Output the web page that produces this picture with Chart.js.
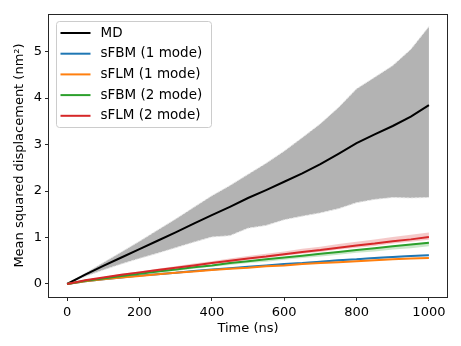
<!DOCTYPE html>
<html>
<head>
<meta charset="utf-8">
<script src="https://cdn.jsdelivr.net/npm/chart.js@4.4.1/dist/chart.umd.min.js"></script>
<style>
  html, body { margin: 0; padding: 0; background: #fff; }
  #wrap { width: 461px; height: 346px; }
</style>
</head>
<body>
<div id="wrap"><canvas id="chart" width="461" height="346"></canvas></div>
<script>
// time points (ns)
const times = [0, 50, 100, 150, 200, 250, 300, 350, 400, 450, 500, 550, 600, 650, 700, 750, 800, 850, 900, 950, 1000];

// MD mean and spread
const mdMean = [0, 0.2, 0.39, 0.57, 0.75, 0.93, 1.11, 1.30, 1.48, 1.66, 1.85, 2.02, 2.20, 2.38, 2.58, 2.80, 3.03, 3.22, 3.40, 3.60, 3.85];
const mdHigh = [0, 0.23, 0.46, 0.69, 0.92, 1.16, 1.40, 1.65, 1.90, 2.12, 2.36, 2.60, 2.86, 3.15, 3.45, 3.80, 4.20, 4.45, 4.70, 5.05, 5.54];
const mdLow  = [0, 0.16, 0.30, 0.43, 0.55, 0.66, 0.78, 0.90, 1.01, 1.04, 1.20, 1.26, 1.38, 1.46, 1.53, 1.62, 1.75, 1.82, 1.86, 1.85, 1.86];

// models
const fbm1 = [0, 0.06, 0.10, 0.14, 0.18, 0.21, 0.24, 0.28, 0.31, 0.34, 0.37, 0.40, 0.43, 0.45, 0.48, 0.51, 0.53, 0.56, 0.58, 0.60, 0.62];
const fbm1High = [0, 0.06, 0.11, 0.15, 0.19, 0.22, 0.25, 0.29, 0.32, 0.35, 0.38, 0.41, 0.44, 0.47, 0.50, 0.53, 0.55, 0.58, 0.60, 0.62, 0.64];
const fbm1Low = [0, 0.05, 0.10, 0.13, 0.17, 0.20, 0.23, 0.27, 0.30, 0.33, 0.36, 0.39, 0.42, 0.44, 0.47, 0.49, 0.52, 0.54, 0.56, 0.59, 0.61];

const flm1 = [0, 0.06, 0.10, 0.14, 0.17, 0.21, 0.24, 0.27, 0.30, 0.33, 0.35, 0.38, 0.40, 0.43, 0.45, 0.47, 0.49, 0.51, 0.53, 0.55, 0.56];
const flm1High = [0, 0.06, 0.11, 0.14, 0.18, 0.21, 0.25, 0.28, 0.31, 0.34, 0.36, 0.39, 0.41, 0.44, 0.46, 0.48, 0.50, 0.52, 0.54, 0.56, 0.57];
const flm1Low = [0, 0.05, 0.10, 0.13, 0.17, 0.20, 0.23, 0.26, 0.29, 0.32, 0.34, 0.37, 0.39, 0.42, 0.44, 0.46, 0.48, 0.50, 0.52, 0.54, 0.55];

const fbm2 = [0, 0.07, 0.12, 0.17, 0.22, 0.27, 0.31, 0.36, 0.40, 0.45, 0.49, 0.53, 0.57, 0.61, 0.65, 0.69, 0.73, 0.77, 0.81, 0.85, 0.89];
const fbm2High = [0, 0.07, 0.12, 0.18, 0.23, 0.28, 0.32, 0.37, 0.41, 0.46, 0.50, 0.54, 0.58, 0.62, 0.66, 0.70, 0.74, 0.78, 0.82, 0.86, 0.90];
const fbm2Low = [0, 0.06, 0.11, 0.15, 0.20, 0.24, 0.28, 0.33, 0.37, 0.41, 0.45, 0.48, 0.52, 0.56, 0.59, 0.63, 0.67, 0.70, 0.74, 0.77, 0.81];

const flm2 = [0, 0.08, 0.14, 0.20, 0.25, 0.30, 0.35, 0.40, 0.45, 0.50, 0.55, 0.59, 0.64, 0.69, 0.73, 0.78, 0.83, 0.87, 0.92, 0.96, 1.01];
const flm2High = [0, 0.09, 0.15, 0.22, 0.27, 0.33, 0.38, 0.44, 0.49, 0.55, 0.60, 0.65, 0.70, 0.76, 0.80, 0.86, 0.91, 0.96, 1.01, 1.06, 1.11];
const flm2Low = [0, 0.07, 0.13, 0.19, 0.24, 0.28, 0.33, 0.38, 0.43, 0.47, 0.52, 0.56, 0.61, 0.65, 0.69, 0.74, 0.78, 0.82, 0.87, 0.91, 0.95];

const xTicks = [0, 200, 400, 600, 800, 1000];
const yTicks = [0, 1, 2, 3, 4, 5];

const FONT = 'DejaVu Sans';

function pts(ys) {
  return times.map((t, i) => ({ x: t, y: ys[i] }));
}

function band(low, high, color, order) {
  return [
    { data: pts(low), borderWidth: 0, pointRadius: 0, fill: false, order: order, legend: false },
    { data: pts(high), borderWidth: 0, pointRadius: 0, fill: '-1', backgroundColor: color, order: order, legend: false }
  ];
}

function line(label, ys, color, order) {
  return { label: label, data: pts(ys), borderColor: color, borderWidth: 2, pointRadius: 0, fill: false, order: order, legend: true };
}

const mdBandLow = { data: pts(mdLow), borderColor: '#e8e8e8', borderWidth: 1, borderDash: [3, 1], pointRadius: 0, fill: false, order: 21, legend: false };
const mdBandHigh = { data: pts(mdHigh), borderColor: '#e8e8e8', borderWidth: 1, borderDash: [3, 1], pointRadius: 0, fill: '-1', backgroundColor: '#b3b3b3', order: 21, legend: false };

const datasets = [
  mdBandLow, mdBandHigh,
  line('MD', mdMean, '#000000', 19),
  ...band(fbm1Low, fbm1High, 'rgba(31,119,180,0.25)', 18),
  line('sFBM (1 mode)', fbm1, '#1f77b4', 17),
  ...band(flm1Low, flm1High, 'rgba(255,127,14,0.25)', 16),
  line('sFLM (1 mode)', flm1, '#ff7f0e', 15),
  ...band(fbm2Low, fbm2High, 'rgba(44,160,44,0.25)', 14),
  line('sFBM (2 mode)', fbm2, '#2ca02c', 13),
  ...band(flm2Low, flm2High, 'rgba(214,39,40,0.25)', 12),
  line('sFLM (2 mode)', flm2, '#d62728', 11)
];

// frame around the axes + legend box in the upper left
const framePlugin = {
  id: 'frame',
  afterDraw(chart) {
    const { ctx, chartArea: a } = chart;
    ctx.save();
    ctx.strokeStyle = '#262626';
    ctx.lineWidth = 1;
    ctx.strokeRect(Math.round(a.left) - 0.5, Math.round(a.top) + 0.5, Math.round(a.right - a.left) + 1, Math.round(a.bottom - a.top));

    const items = chart.data.datasets.filter(d => d.legend);
    const bx = a.left + 7.5, by = a.top + 7.5, bw = 155, bh = 106, rowH = 20.7;
    ctx.fillStyle = 'rgba(255,255,255,0.8)';
    ctx.strokeStyle = '#cccccc';
    ctx.beginPath();
    ctx.roundRect(bx, by, bw, bh, 3);
    ctx.fill();
    ctx.stroke();
    ctx.font = '13.5px ' + FONT;
    ctx.textBaseline = 'middle';
    items.forEach((d, i) => {
      const y = by + 11.5 + i * rowH;
      ctx.strokeStyle = d.borderColor;
      ctx.lineWidth = 2;
      ctx.beginPath();
      ctx.moveTo(bx + 4, y);
      ctx.lineTo(bx + 34, y);
      ctx.stroke();
      ctx.fillStyle = '#000';
      ctx.fillText(d.label, bx + 44, y);
    });
    ctx.restore();
  }
};

new Chart(document.getElementById('chart'), {
  type: 'line',
  data: { datasets: datasets },
  plugins: [framePlugin],
  options: {
    responsive: false,
    animation: false,
    devicePixelRatio: 1,
    layout: { padding: { top: 14, right: 14, left: 0, bottom: 0 } },
    plugins: { legend: { display: false }, tooltip: { enabled: false } },
    scales: {
      x: {
        type: 'linear',
        min: -50, max: 1050,
        afterBuildTicks: s => { s.ticks = xTicks.map(v => ({ value: v })); },
        afterFit: s => { s.height = 49; },
        grid: { drawOnChartArea: false, drawTicks: true, tickLength: 4, color: '#262626' },
        border: { display: false },
        ticks: { color: '#000', font: { family: FONT, size: 13 }, padding: 4, maxRotation: 0, callback: v => String(v) },
        title: { display: true, text: 'Time (ns)', color: '#000', font: { family: FONT, size: 13 }, padding: { top: 0, bottom: 10 } }
      },
      y: {
        type: 'linear',
        min: -0.28, max: 5.81,
        afterBuildTicks: s => { s.ticks = yTicks.map(v => ({ value: v })); },
        afterFit: s => { s.width = 49; },
        grid: { drawOnChartArea: false, drawTicks: true, tickLength: 4, color: '#262626' },
        border: { display: false },
        ticks: { color: '#000', font: { family: FONT, size: 13 }, padding: 3, callback: v => String(v) },
        title: { display: true, text: 'Mean squared displacement (nm²)', color: '#000', font: { family: FONT, size: 13 }, padding: { top: 12, bottom: 0 } }
      }
    }
  }
});
</script>
</body>
</html>
